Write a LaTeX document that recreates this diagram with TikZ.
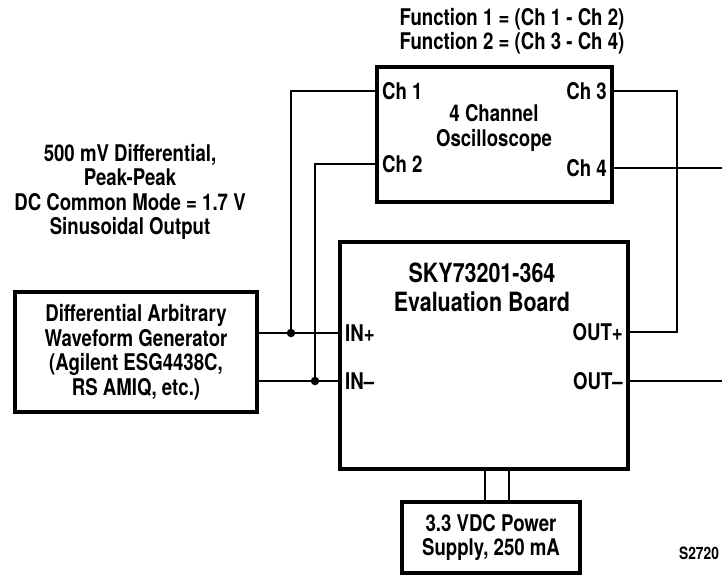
\documentclass[tikz,border=0pt]{standalone}
\usepackage{fontspec}
\setmainfont[FakeStretch=0.81]{TeX Gyre Heros}
\usetikzlibrary{positioning, calc}

\begin{document}
\begin{tikzpicture}[x=1pt, y=-1pt, line width=1.6pt,
    font=\fontsize{23}{24.5}\selectfont\bfseries,
    blk/.style={draw, line width=3.2pt, align=center},
    port/.style={inner sep=6pt},
    jn/.style={circle, fill, inner sep=0pt, minimum size=8.5pt}]
      \useasboundingbox (0,0) rectangle (722,581);

      % boxes
      \node[blk, minimum width=242pt, minimum height=120pt] (gen) at (136,352)
        {Differential Arbitrary\\Waveform Generator\\(Agilent ESG4438C,\\RS AMIQ, etc.)};
      \node[blk, minimum width=235pt, minimum height=135pt] (scope) at (494.5,134.5) {};
      \node[blk, minimum width=288pt, minimum height=227pt] (evb) at (484,355.5) {};
      \node[blk, minimum width=178pt, minimum height=71pt] (psu) at (491,537.5)
        {3.3 VDC Power\\Supply, 250 mA};

      % texts
      \node[align=center] (fn) at (512,31) {Function 1 = (Ch 1 - Ch 2)\\Function 2 = (Ch 3 - Ch 4)};
      \node[align=center] (sig) at (130,192)
        {500 mV Differential,\\Peak-Peak\\DC Common Mode = 1.7 V\\Sinusoidal Output};
      \node[align=center] (scopelbl) at (494,128) {4 Channel\\Oscilloscope};
      \node[align=center, font=\fontsize{26.5}{29}\selectfont\bfseries] (evblbl) at (482,287)
        {SKY73201-364\\Evaluation Board};
      \node[font=\fontsize{17}{18}\selectfont\bfseries] (tag) at (699,553) {S2720};

      % ports
      \node[port, anchor=west] (ch1) at (scope.west |- 0,91) {Ch 1};
      \node[port, anchor=west] (ch2) at (scope.west |- 0,164) {Ch 2};
      \node[port, anchor=east] (ch3) at (scope.east |- 0,91) {Ch 3};
      \node[port, anchor=east] (ch4) at (scope.east |- 0,168) {Ch 4};
      \node[port, anchor=west] (inp) at (evb.west |- 0,333) {IN+};
      \node[port, anchor=west] (inm) at (evb.west |- 0,381) {IN--};
      \node[port, anchor=east] (outp) at (evb.east |- 0,332) {OUT+};
      \node[port, anchor=east] (outm) at (evb.east |- 0,381) {OUT--};

      \node[jn] (jp) at (291,333) {};
      \node[jn] (jm) at (315,381) {};
      \coordinate (r3) at (677,91);
      \coordinate (e4) at (722,168);
      \coordinate (em) at (722,381);

      % wiring
      \draw (gen.east |- inp) -- (inp.west);
      \draw (gen.east |- inm) -- (inm.west);
      \draw (ch1.west) -| (jp.center);
      \draw (ch2.west) -| (jm.center);
      \draw (ch3.east) -- (r3) |- (outp.east);
      \draw (ch4.east) -- (e4);
      \draw (outm.east) -- (em);
      \draw (evb.south -| 485,0) -- (psu.north -| 485,0);
      \draw (evb.south -| 509,0) -- (psu.north -| 509,0);
    \end{tikzpicture}
\end{document}
